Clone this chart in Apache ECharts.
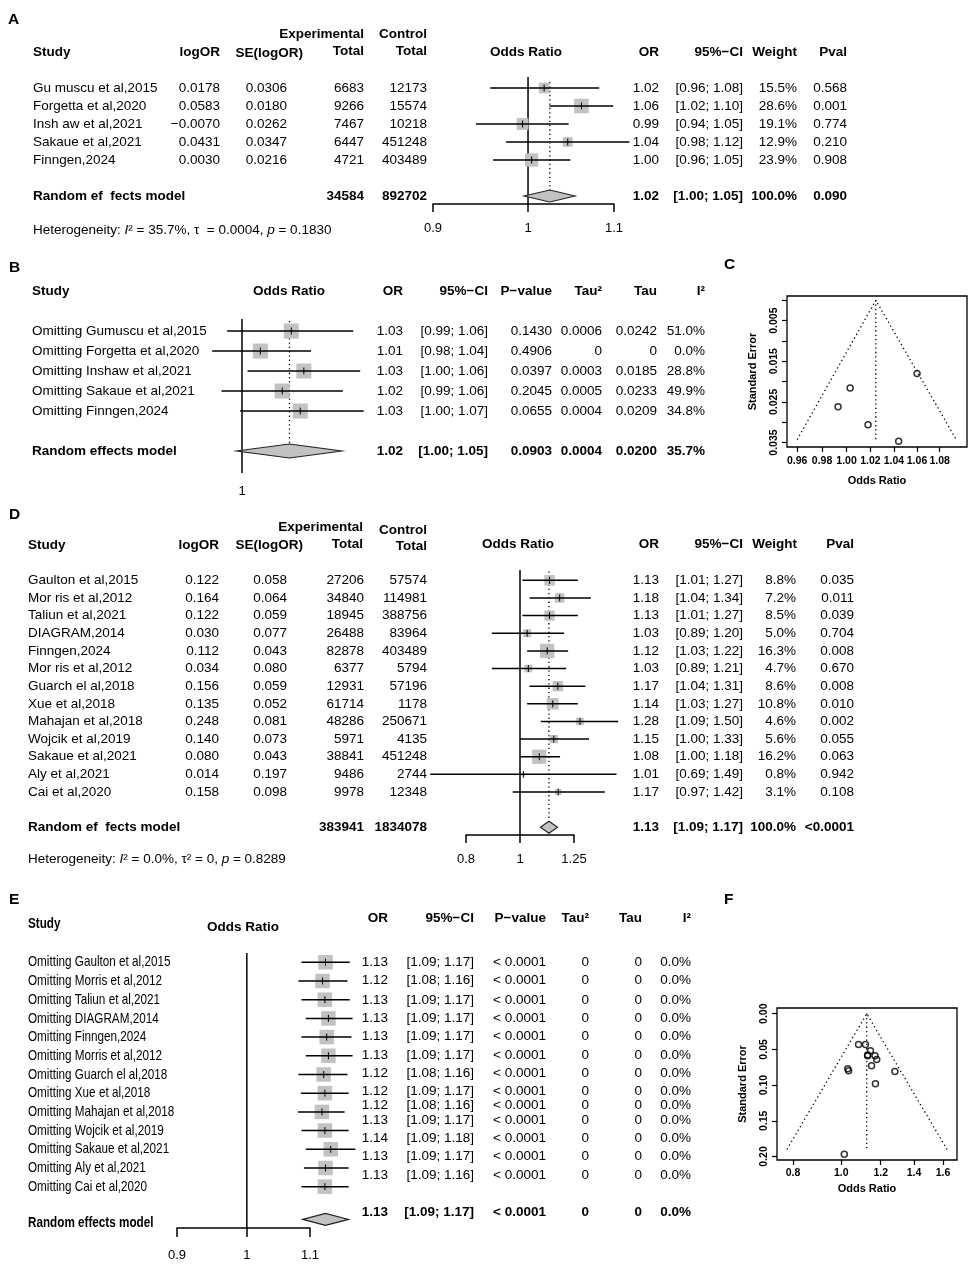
<!DOCTYPE html>
<html><head><meta charset="utf-8">
<script src="https://cdn.jsdelivr.net/npm/echarts@6/dist/echarts.min.js"></script>
<style>html,body{margin:0;padding:0;background:#fff}#c{width:976px;height:1269px}</style>
</head><body><div id="c"></div>
<script>
// ================= DATA =================
// Panel A
const A_STUDY = ['Gu muscu et al,2015','Forgetta et al,2020','Insh aw et al,2021','Sakaue et al,2021','Finngen,2024'];
const A_LOGOR = [0.0178, 0.0583, -0.0070, 0.0431, 0.0030];
const A_SE = [0.0306, 0.0180, 0.0262, 0.0347, 0.0216];
const A_EXP_TOTAL = [6683, 9266, 7467, 6447, 4721];
const A_CTRL_TOTAL = [12173, 15574, 10218, 451248, 403489];
const A_OR = [1.018, 1.061, 0.994, 1.045, 1.004];
const A_LO = [0.959, 1.024, 0.944, 0.976, 0.962];
const A_HI = [1.082, 1.099, 1.046, 1.119, 1.048];
const A_OR_TXT = ['1.02','1.06','0.99','1.04','1.00'];
const A_CI_TXT = ['[0.96; 1.08]','[1.02; 1.10]','[0.94; 1.05]','[0.98; 1.12]','[0.96; 1.05]'];
const A_WEIGHT = [15.5, 28.6, 19.1, 12.9, 23.9];
const A_PVAL = ['0.568','0.001','0.774','0.210','0.908'];
const A_SUM = [1.0245, 0.9955, 1.0535];
const A_SUM_TOTALS = [34584, 892702];
const A_SUM_TXT = ['1.02','[1.00; 1.05]','100.0%','0.090'];
const A_TICKS = [0.9, 1, 1.1];
const A_TICK_LABELS = ['0.9','1','1.1'];

// Panel B (leave-one-out)
const B_STUDY = ['Omitting Gumuscu et al,2015','Omitting Forgetta et al,2020','Omitting Inshaw et al,2021','Omitting Sakaue et al,2021','Omitting Finngen,2024'];
const B_OR = [1.027, 1.010, 1.034, 1.022, 1.032];
const B_LO = [0.992, 0.984, 1.003, 0.989, 0.999];
const B_HI = [1.062, 1.038, 1.066, 1.056, 1.068];
const B_OR_TXT = ['1.03','1.01','1.03','1.02','1.03'];
const B_CI_TXT = ['[0.99; 1.06]','[0.98; 1.04]','[1.00; 1.06]','[0.99; 1.06]','[1.00; 1.07]'];
const B_PVAL = ['0.1430','0.4906','0.0397','0.2045','0.0655'];
const B_TAU2 = ['0.0006','0','0.0003','0.0005','0.0004'];
const B_TAU = ['0.0242','0','0.0185','0.0233','0.0209'];
const B_I2 = ['51.0%','0.0%','28.8%','49.9%','34.8%'];
const B_SUM = [1.026, 0.997, 1.0555];
const B_SUM_TXT = ['1.02','[1.00; 1.05]','0.0903','0.0004','0.0200','35.7%'];
const B_TICKS = [1];
const B_TICK_LABELS = ['1'];

// Panel C (funnel, uses A_LOGOR / A_SE)
const C_FUNNEL_OR = [0.960, 1.0245, 1.095];
const C_FUNNEL_SE = [0.0343, 0, 0.0343];
const C_CENTER_SE = [0, 0.0343];
const C_X_TICKS = [0.96, 0.98, 1.00, 1.02, 1.04, 1.06, 1.08];
const C_Y_TICKS = [0, 0.005, 0.010, 0.015, 0.020, 0.025, 0.030, 0.035];
const C_Y_LABELS = [0.005, 0.015, 0.025, 0.035];

// Panel D
const D_STUDY = ['Gaulton et al,2015','Mor ris et al,2012','Taliun et al,2021','DIAGRAM,2014','Finngen,2024','Mor ris et al,2012','Guarch el al,2018','Xue et al,2018','Mahajan et al,2018','Wojcik et al,2019','Sakaue et al,2021','Aly et al,2021','Cai et al,2020'];
const D_LOGOR = [0.122, 0.164, 0.122, 0.030, 0.112, 0.034, 0.156, 0.135, 0.248, 0.140, 0.080, 0.014, 0.158];
const D_SE = [0.058, 0.064, 0.059, 0.077, 0.043, 0.080, 0.059, 0.052, 0.081, 0.073, 0.043, 0.197, 0.098];
const D_EXP_TOTAL = [27206, 34840, 18945, 26488, 82878, 6377, 12931, 61714, 48286, 5971, 38841, 9486, 9978];
const D_CTRL_TOTAL = [57574, 114981, 388756, 83964, 403489, 5794, 57196, 1178, 250671, 4135, 451248, 2744, 12348];
const D_OR = [1.130, 1.178, 1.130, 1.030, 1.119, 1.035, 1.169, 1.145, 1.281, 1.150, 1.083, 1.014, 1.171];
const D_LO = [1.01, 1.04, 1.01, 0.89, 1.03, 0.89, 1.04, 1.03, 1.09, 1.00, 1.00, 0.69, 0.97];
const D_HI = [1.27, 1.34, 1.27, 1.20, 1.22, 1.21, 1.31, 1.27, 1.50, 1.33, 1.18, 1.49, 1.42];
const D_OR_TXT = ['1.13','1.18','1.13','1.03','1.12','1.03','1.17','1.14','1.28','1.15','1.08','1.01','1.17'];
const D_CI_TXT = ['[1.01; 1.27]','[1.04; 1.34]','[1.01; 1.27]','[0.89; 1.20]','[1.03; 1.22]','[0.89; 1.21]','[1.04; 1.31]','[1.03; 1.27]','[1.09; 1.50]','[1.00; 1.33]','[1.00; 1.18]','[0.69; 1.49]','[0.97; 1.42]'];
const D_WEIGHT = [8.8, 7.2, 8.5, 5.0, 16.3, 4.7, 8.6, 10.8, 4.6, 5.6, 16.2, 0.8, 3.1];
const D_PVAL = ['0.035','0.011','0.039','0.704','0.008','0.670','0.008','0.010','0.002','0.055','0.063','0.942','0.108'];
const D_SUM = [1.127, 1.088, 1.168];
const D_SUM_TOTALS = [383941, 1834078];
const D_SUM_TXT = ['1.13','[1.09; 1.17]','100.0%','<0.0001'];
const D_TICKS = [0.8, 1, 1.25];
const D_TICK_LABELS = ['0.8','1','1.25'];

// Panel E (leave-one-out)
const E_STUDY = ['Omitting Gaulton et al,2015','Omitting Morris et al,2012','Omitting Taliun et al,2021','Omitting DIAGRAM,2014','Omitting Finngen,2024','Omitting Morris et al,2012','Omitting Guarch el al,2018','Omitting Xue et al,2018','Omitting Mahajan et al,2018','Omitting Wojcik et al,2019','Omitting Sakaue et al,2021','Omitting Aly et al,2021','Omitting Cai et al,2020'];
const E_OR = [1.126, 1.121, 1.125, 1.131, 1.128, 1.131, 1.123, 1.125, 1.120, 1.125, 1.135, 1.126, 1.125];
const E_LO = [1.086, 1.081, 1.086, 1.093, 1.086, 1.093, 1.081, 1.085, 1.080, 1.086, 1.093, 1.090, 1.086];
const E_HI = [1.168, 1.164, 1.168, 1.173, 1.171, 1.173, 1.164, 1.166, 1.159, 1.166, 1.178, 1.166, 1.166];
const E_OR_TXT = ['1.13','1.12','1.13','1.13','1.13','1.13','1.12','1.12','1.12','1.13','1.14','1.13','1.13'];
const E_CI_TXT = ['[1.09; 1.17]','[1.08; 1.16]','[1.09; 1.17]','[1.09; 1.17]','[1.09; 1.17]','[1.09; 1.17]','[1.08; 1.16]','[1.09; 1.17]','[1.08; 1.16]','[1.09; 1.17]','[1.09; 1.18]','[1.09; 1.17]','[1.09; 1.16]'];
const E_PVAL = ['< 0.0001','< 0.0001','< 0.0001','< 0.0001','< 0.0001','< 0.0001','< 0.0001','< 0.0001','< 0.0001','< 0.0001','< 0.0001','< 0.0001','< 0.0001'];
const E_TAU2 = ['0','0','0','0','0','0','0','0','0','0','0','0','0'];
const E_TAU = ['0','0','0','0','0','0','0','0','0','0','0','0','0'];
const E_I2 = ['0.0%','0.0%','0.0%','0.0%','0.0%','0.0%','0.0%','0.0%','0.0%','0.0%','0.0%','0.0%','0.0%'];
const E_SUM = [1.126, 1.088, 1.166];
const E_SUM_TXT = ['1.13','[1.09; 1.17]','< 0.0001','0','0','0.0%'];
const E_TICKS = [0.9, 1, 1.1];
const E_TICK_LABELS = ['0.9','1','1.1'];

// Panel F (funnel, uses D_LOGOR / D_SE)
const F_FUNNEL_OR = [0.778, 1.125, 1.63];
const F_FUNNEL_SE = [0.19, 0, 0.19];
const F_CENTER_SE = [0, 0.19];
const F_X_TICKS = [0.8, 1.0, 1.2, 1.4, 1.6];
const F_Y_TICKS = [0, 0.05, 0.10, 0.15, 0.20];

// ================= LAYOUT / HELPERS =================
const FONT = '"Liberation Sans", Arial, Helvetica, sans-serif';
const FS = 13.5;
const ln = Math.log;
const GRAY = '#c2c2c2';
const LW = 1.5;
const E_TEXT_POS = [1, 1.95, 3.02, 3.99, 4.98, 5.96, 6.94, 7.92, 8.65, 9.44, 10.41, 11.40, 12.39];
const E_NARROW = 0.78;
const E_FS = 15;

function signed(v, d) { return (v < 0 ? '\u2212' : '') + Math.abs(v).toFixed(d); }
function txt(x, y, text, o) {
  o = o || {};
  return {type:'text', x:x, y:y, scaleX:o.sx || 1, silent:true,
    style:{text:String(text), fill:'#000', fontFamily:FONT, fontSize:o.size || FS,
      fontWeight:o.bold ? 'bold' : 'normal', align:o.align || 'right', verticalAlign:'middle'}};
}
function cell(x, t, extra) { return Object.assign({x:x, t:t}, extra || {}); }

function tableSeries(gi, rows) {
  return {type:'custom', xAxisIndex:gi, yAxisIndex:gi, clip:false, silent:true, z:5,
    data: rows.map((r, i) => [0, r.pos, i]),
    renderItem: function (params, api) {
      const r = rows[api.value(2)];
      const y = api.coord([0, api.value(1)])[1];
      return {type:'group', children:r.cells.map(c => txt(c.x, y, c.t, c))};
    }};
}
function forestSeries(gi, est, lo, hi, sizes) {
  return {type:'custom', xAxisIndex:gi, yAxisIndex:gi, clip:false, silent:true, z:4,
    data: est.map((e, i) => [ln(e), i + 1, ln(lo[i]), ln(hi[i]), sizes[i]]),
    encode:{x:[0, 2, 3], y:1},
    renderItem: function (params, api) {
      const row = api.value(1);
      const c = api.coord([api.value(0), row]);
      const l = api.coord([api.value(2), row]);
      const h = api.coord([api.value(3), row]);
      const s = api.value(4);
      return {type:'group', children:[
        {type:'rect', shape:{x:c[0] - s / 2, y:c[1] - s / 2, width:s, height:s}, style:{fill:GRAY}},
        {type:'line', shape:{x1:l[0], y1:c[1], x2:h[0], y2:c[1]}, style:{stroke:'#000', lineWidth:LW}},
        {type:'line', shape:{x1:c[0], y1:c[1] - 3.5, x2:c[0], y2:c[1] + 3.5}, style:{stroke:'#000', lineWidth:1}}
      ]};
    }};
}
function diamondSeries(gi, sum, row, hh) {
  return {type:'custom', xAxisIndex:gi, yAxisIndex:gi, clip:false, silent:true, z:4,
    data:[[ln(sum[0]), row, ln(sum[1]), ln(sum[2])]], encode:{x:[0, 2, 3], y:1},
    renderItem: function (params, api) {
      const r = api.value(1);
      const c = api.coord([api.value(0), r]);
      const l = api.coord([api.value(2), r]);
      const h = api.coord([api.value(3), r]);
      return {type:'polygon', shape:{points:[[l[0], c[1]], [c[0], c[1] - hh], [h[0], c[1]], [c[0], c[1] + hh]]},
        style:{fill:GRAY, stroke:'#222', lineWidth:1.1}};
    }};
}
function lineSeries(gi, pts, dotted, z) {
  return {type:'line', xAxisIndex:gi, yAxisIndex:gi, data:pts, symbol:'none', silent:true, clip:false, z:z || 3,
    lineStyle:{color:'#000', width:dotted ? 1.3 : LW, type:dotted ? [1.3, 3] : 'solid'}, animation:false};
}
function forestX(gi, min, max, ticks, labels, margin, showLine, tickLen) {
  const vals = ticks.map(ln);
  return {type:'value', gridIndex:gi, min:min, max:max,
    axisLine:{show:showLine, onZero:false, lineStyle:{color:'#000', width:LW}},
    axisTick:{show:true, customValues:vals, length:tickLen, lineStyle:{color:'#000', width:LW}},
    axisLabel:{show:true, customValues:vals, margin:margin, color:'#000', fontFamily:FONT, fontSize:13,
      formatter: function (v) {
        let k = 0, b = Infinity;
        vals.forEach((t, i) => { const d = Math.abs(t - v); if (d < b) { b = d; k = i; } });
        return labels[k];
      }},
    splitLine:{show:false}};
}
function hiddenY(gi, min, max) {
  return {type:'value', gridIndex:gi, min:min, max:max, inverse:true, show:false,
    axisLine:{onZero:false}, splitLine:{show:false}};
}
function funnelX(gi, min, max, ticks, dec, margin, nameGap) {
  const vals = ticks.map(ln);
  return {type:'value', gridIndex:gi, min:min, max:max, name:'Odds Ratio', nameLocation:'middle', nameGap:nameGap,
    nameTextStyle:{color:'#000', fontFamily:FONT, fontSize:11, fontWeight:'bold'},
    axisLine:{show:false, onZero:false},
    axisTick:{show:true, customValues:vals, length:5, lineStyle:{color:'#000', width:1.2}},
    axisLabel:{show:true, customValues:vals, margin:margin, color:'#000', fontFamily:FONT, fontSize:10.5, fontWeight:'bold',
      formatter: v => Math.exp(v).toFixed(dec)},
    splitLine:{show:false}};
}
function funnelY(gi, min, max, ticks, labels, dec, nameGap) {
  return {type:'value', gridIndex:gi, min:min, max:max, inverse:true, name:'Standard Error', nameLocation:'middle',
    nameGap:nameGap, nameRotate:90,
    nameTextStyle:{color:'#000', fontFamily:FONT, fontSize:11, fontWeight:'bold'},
    axisLine:{show:false, onZero:false},
    axisTick:{show:true, customValues:ticks, length:5, lineStyle:{color:'#000', width:1.2}},
    axisLabel:{show:true, customValues:labels, rotate:90, margin:7, color:'#000', fontFamily:FONT, fontSize:10.5, fontWeight:'bold',
      formatter: v => v.toFixed(dec)},
    splitLine:{show:false}};
}

// ---------- tables ----------
const rowsA = A_STUDY.map((s, i) => ({pos:i + 1, cells:[
  cell(33, s, {align:'left'}), cell(220, signed(A_LOGOR[i], 4)), cell(287, A_SE[i].toFixed(4)),
  cell(364, A_EXP_TOTAL[i]), cell(427, A_CTRL_TOTAL[i]), cell(659, A_OR_TXT[i]), cell(743, A_CI_TXT[i]),
  cell(797, A_WEIGHT[i].toFixed(1) + '%'), cell(847, A_PVAL[i])]}));
rowsA.push({pos:7, cells:[cell(33, 'Random ef  fects model', {align:'left', bold:true}),
  cell(364, A_SUM_TOTALS[0], {bold:true}), cell(427, A_SUM_TOTALS[1], {bold:true}),
  cell(659, A_SUM_TXT[0], {bold:true}), cell(743, A_SUM_TXT[1], {bold:true}),
  cell(797, A_SUM_TXT[2], {bold:true}), cell(847, A_SUM_TXT[3], {bold:true})]});

const rowsB = B_STUDY.map((s, i) => ({pos:i + 1, cells:[
  cell(32, s, {align:'left'}), cell(403, B_OR_TXT[i]), cell(488, B_CI_TXT[i]), cell(552, B_PVAL[i]),
  cell(602, B_TAU2[i]), cell(657, B_TAU[i]), cell(705, B_I2[i])]}));
rowsB.push({pos:7, cells:[cell(32, 'Random effects model', {align:'left', bold:true}),
  cell(403, B_SUM_TXT[0], {bold:true}), cell(488, B_SUM_TXT[1], {bold:true}), cell(552, B_SUM_TXT[2], {bold:true}),
  cell(602, B_SUM_TXT[3], {bold:true}), cell(657, B_SUM_TXT[4], {bold:true}), cell(705, B_SUM_TXT[5], {bold:true})]});

const rowsD = D_STUDY.map((s, i) => ({pos:i + 1, cells:[
  cell(28, s, {align:'left'}), cell(219, D_LOGOR[i].toFixed(3)), cell(287, D_SE[i].toFixed(3)),
  cell(364, D_EXP_TOTAL[i]), cell(427, D_CTRL_TOTAL[i]), cell(659, D_OR_TXT[i]), cell(743, D_CI_TXT[i]),
  cell(796, D_WEIGHT[i].toFixed(1) + '%'), cell(854, D_PVAL[i])]}));
rowsD.push({pos:15, cells:[cell(28, 'Random ef  fects model', {align:'left', bold:true}),
  cell(364, D_SUM_TOTALS[0], {bold:true}), cell(427, D_SUM_TOTALS[1], {bold:true}),
  cell(659, D_SUM_TXT[0], {bold:true}), cell(743, D_SUM_TXT[1], {bold:true}),
  cell(796, D_SUM_TXT[2], {bold:true}), cell(854, D_SUM_TXT[3], {bold:true})]});

const rowsE = E_STUDY.map((s, i) => ({pos:i + 1, cells:[cell(28, s, {align:'left', sx:E_NARROW, size:E_FS})]}));
E_OR_TXT.forEach((t, i) => rowsE.push({pos:E_TEXT_POS[i], cells:[
  cell(388, t), cell(474, E_CI_TXT[i]), cell(546, E_PVAL[i]), cell(589, E_TAU2[i]), cell(642, E_TAU[i]), cell(691, E_I2[i])]}));
rowsE.push({pos:14.35, cells:[
  cell(388, E_SUM_TXT[0], {bold:true}), cell(474, E_SUM_TXT[1], {bold:true}), cell(546, E_SUM_TXT[2], {bold:true}),
  cell(589, E_SUM_TXT[3], {bold:true}), cell(642, E_SUM_TXT[4], {bold:true}), cell(691, E_SUM_TXT[5], {bold:true})]});
rowsE.push({pos:14.91, cells:[cell(28, 'Random effects model', {align:'left', bold:true, sx:E_NARROW, size:E_FS})]});

// ---------- headers (static text) ----------
function H(x, y, t, align, o) { return txt(x, y, t, Object.assign({align:align || 'right', bold:true}, o || {})); }
function hetero(x, y, parts) {
  return {type:'text', x:x, y:y, silent:true, style:{text:parts, fill:'#000', fontFamily:FONT, fontSize:FS,
    align:'left', verticalAlign:'middle',
    rich:{it:{fontStyle:'italic', fontFamily:FONT, fontSize:FS, fill:'#000'}, n:{fontFamily:FONT, fontSize:FS, fill:'#000'}}}};
}
const graphics = [
  // A
  H(8, 20, 'A', 'left', {size:15.5}),
  H(364, 34, 'Experimental'), H(427, 34, 'Control'),
  H(33, 52, 'Study', 'left'), H(220, 52, 'logOR'), H(303, 53, 'SE(logOR)'),
  H(364, 51, 'Total'), H(427, 51, 'Total'), H(526, 52, 'Odds Ratio', 'center'),
  H(659, 52, 'OR'), H(743, 52, '95%\u2212CI'), H(797, 52, 'Weight'), H(847, 52, 'Pval'),
  hetero(33, 230, '{n|Heterogeneity: }{it|I}{n|\u00b2 = 35.7%, \u03c4  = 0.0004, }{it|p}{n| = 0.1830}'),
  // B
  H(9, 268, 'B', 'left', {size:15.5}),
  H(32, 291, 'Study', 'left'), H(289, 291, 'Odds Ratio', 'center'), H(403, 291, 'OR'),
  H(488, 291, '95%\u2212CI'), H(552, 291, 'P\u2212value'), H(602, 291, 'Tau\u00b2'), H(657, 291, 'Tau'), H(705, 291, 'I\u00b2'),
  // C
  H(724, 265, 'C', 'left', {size:15.5}),
  // D
  H(9, 515, 'D', 'left', {size:15.5}),
  H(363, 527, 'Experimental'), H(363, 544, 'Total'), H(427, 530, 'Control'), H(427, 546, 'Total'),
  H(28, 545, 'Study', 'left'), H(219, 545, 'logOR'), H(303, 545, 'SE(logOR)'),
  H(518, 544, 'Odds Ratio', 'center'), H(659, 544, 'OR'), H(743, 544, '95%\u2212CI'), H(797, 544, 'Weight'), H(854, 544, 'Pval'),
  hetero(28, 859, '{n|Heterogeneity: }{it|I}{n|\u00b2 = 0.0%, \u03c4\u00b2 = 0, }{it|p}{n| = 0.8289}'),
  // E
  H(9, 900, 'E', 'left', {size:15.5}),
  H(28, 924, 'Study', 'left', {sx:E_NARROW, size:E_FS}), H(243, 927, 'Odds Ratio', 'center'),
  H(388, 918, 'OR'), H(474, 918, '95%\u2212CI'), H(546, 918, 'P\u2212value'), H(589, 918, 'Tau\u00b2'),
  H(642, 918, 'Tau'), H(691, 918, 'I\u00b2'),
  // F
  H(724, 900, 'F', 'left', {size:15.5})
];

// ---------- grids (0:A 1:B 2:C 3:D 4:E 5:F) ----------
const grids = [
  {left:433, top:77, width:181, height:127},
  {left:200, top:319, width:180, height:147},
  {left:787, top:296, width:180, height:151, show:true, borderColor:'#000', borderWidth:1.3},
  {left:466, top:570, width:108, height:265},
  {left:177, top:953, width:133, height:275},
  {left:777, top:1008, width:180, height:152, show:true, borderColor:'#000', borderWidth:1.3}
];
const Y_A = [0.389, 7.444], Y_B = [0.4, 7.75], Y_D = [0.415, 15.437], Y_E = [0.503, 15.21];

const xAxes = [
  forestX(0, ln(0.9), ln(1.1), A_TICKS, A_TICK_LABELS, 18, true, 8),
  forestX(1, -0.0227, 0.0746, B_TICKS, B_TICK_LABELS, 19, false, 7),
  funnelX(2, -0.0492, 0.0996, C_X_TICKS, 2, 9, 28),
  forestX(3, ln(0.8), ln(1.25), D_TICKS, D_TICK_LABELS, 18, true, 8),
  forestX(4, ln(0.9), ln(1.1), E_TICKS, E_TICK_LABELS, 21, true, 9),
  funnelX(5, -0.297, 0.535, F_X_TICKS, 1, 8, 23)
];
const yAxes = [
  hiddenY(0, Y_A[0], Y_A[1]), hiddenY(1, Y_B[0], Y_B[1]),
  funnelY(2, -0.00105, 0.0361, C_Y_TICKS, C_Y_LABELS, 3, 29),
  hiddenY(3, Y_D[0], Y_D[1]), hiddenY(4, Y_E[0], Y_E[1]),
  funnelY(5, -0.008, 0.2049, F_Y_TICKS, F_Y_TICKS, 2, 29)
];

const sizeA = A_WEIGHT.map(w => 14.5 * Math.sqrt(w / Math.max.apply(null, A_WEIGHT)));
const sizeD = D_WEIGHT.map(w => 14.3 * Math.sqrt(w / Math.max.apply(null, D_WEIGHT)));
const sizeB = B_OR.map(() => 15);
const sizeE = E_OR.map(() => 14.5);

const series = [
  // A
  lineSeries(0, [[0, Y_A[0]], [0, Y_A[1]]], false),
  lineSeries(0, [[ln(A_SUM[0]), 0.67], [ln(A_SUM[0]), 7]], true),
  forestSeries(0, A_OR, A_LO, A_HI, sizeA),
  diamondSeries(0, A_SUM, 7, 6),
  tableSeries(0, rowsA),
  // B
  lineSeries(1, [[0, Y_B[0]], [0, Y_B[1]]], false),
  lineSeries(1, [[ln(B_SUM[0]), 0.5], [ln(B_SUM[0]), 7]], true),
  forestSeries(1, B_OR, B_LO, B_HI, sizeB),
  diamondSeries(1, B_SUM, 7, 7),
  tableSeries(1, rowsB),
  // C
  lineSeries(2, C_FUNNEL_OR.map((o, i) => [ln(o), C_FUNNEL_SE[i]]), true),
  lineSeries(2, C_CENTER_SE.map(s => [ln(C_FUNNEL_OR[1]), s]), true),
  {type:'scatter', xAxisIndex:2, yAxisIndex:2, data:A_LOGOR.map((v, i) => [v, A_SE[i]]), symbol:'circle', symbolSize:6,
    itemStyle:{color:'rgba(0,0,0,0)', borderColor:'#000', borderWidth:1.5}, silent:true, z:4},
  // D
  lineSeries(3, [[0, Y_D[0]], [0, Y_D[1]]], false),
  lineSeries(3, [[ln(D_SUM[0]), 0.5], [ln(D_SUM[0]), 15]], true),
  forestSeries(3, D_OR, D_LO, D_HI, sizeD),
  diamondSeries(3, D_SUM, 15, 6),
  tableSeries(3, rowsD),
  // E
  lineSeries(4, [[0, Y_E[0]], [0, Y_E[1]]], false),
  lineSeries(4, [[ln(E_SUM[0]), 0.55], [ln(E_SUM[0]), 14.75]], true),
  forestSeries(4, E_OR, E_LO, E_HI, sizeE),
  diamondSeries(4, E_SUM, 14.75, 6),
  tableSeries(4, rowsE),
  // F
  lineSeries(5, F_FUNNEL_OR.map((o, i) => [ln(o), F_FUNNEL_SE[i]]), true),
  lineSeries(5, F_CENTER_SE.map(s => [ln(F_FUNNEL_OR[1]), s]), true),
  {type:'scatter', xAxisIndex:5, yAxisIndex:5, data:D_LOGOR.map((v, i) => [v, D_SE[i]]), symbol:'circle', symbolSize:6,
    itemStyle:{color:'rgba(0,0,0,0)', borderColor:'#000', borderWidth:1.5}, silent:true, z:4}
];

const chart = echarts.init(document.getElementById('c'), null, {renderer:'canvas'});
chart.setOption({
  animation:false,
  backgroundColor:'#fff',
  textStyle:{fontFamily:FONT},
  grid:grids, xAxis:xAxes, yAxis:yAxes, series:series, graphic:graphics
});
</script></body></html>
